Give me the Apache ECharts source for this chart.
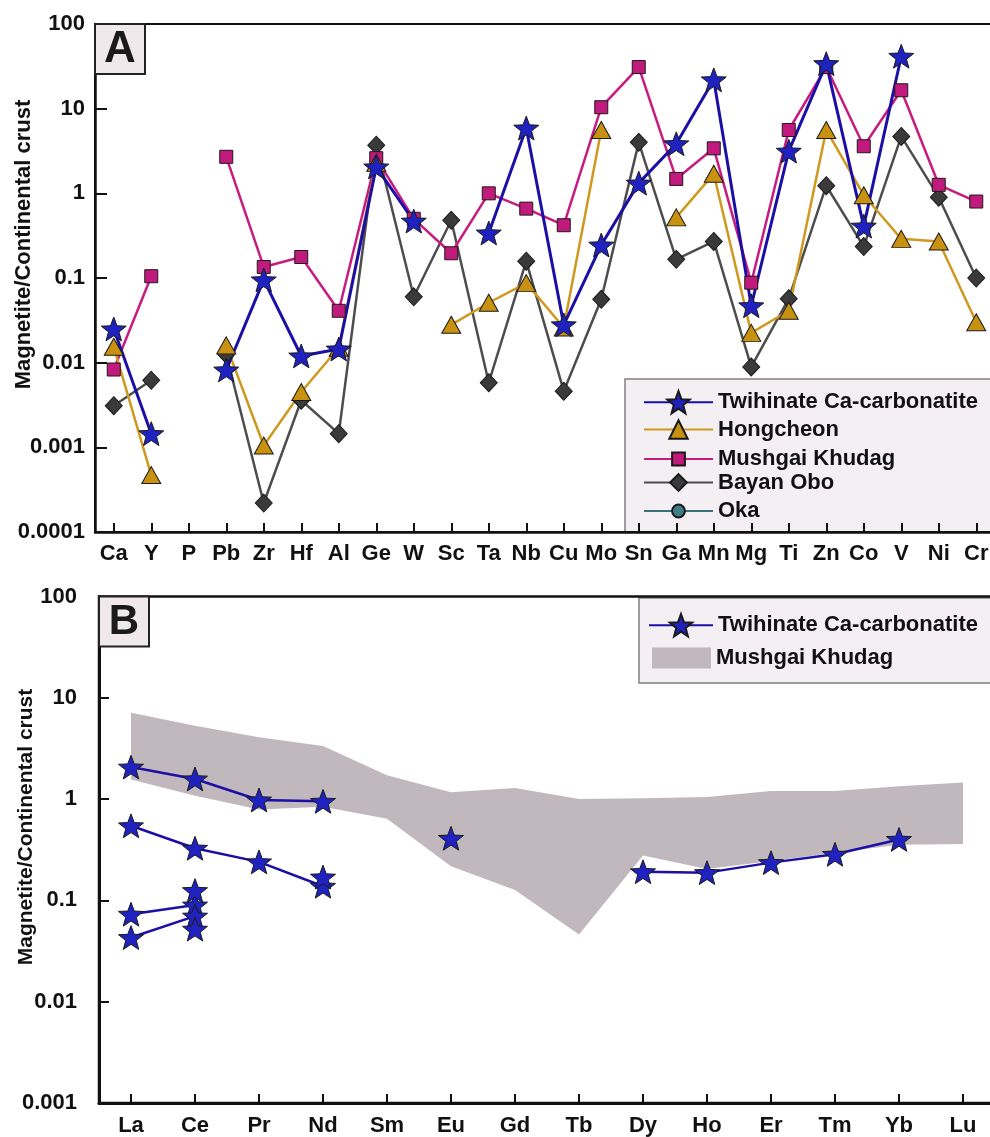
<!DOCTYPE html>
<html>
<head>
<meta charset="utf-8">
<script src="https://cdn.jsdelivr.net/npm/echarts@6/dist/echarts.min.js"></script>
<style>
html,body{margin:0;padding:0;background:#ffffff;}
#chart{width:990px;height:1137px;}
</style>
</head>
<body>
<div id="chart"></div>
<script>
// ---------- Panel A data ----------
const elementsA = ['Ca','Y','P','Pb','Zr','Hf','Al','Ge','W','Sc','Ta','Nb','Cu','Mo','Sn','Ga','Mn','Mg','Ti','Zn','Co','V','Ni','Cr'];
const tickLabelsA = ['0.0001','0.001','0.01','0.1','1','10','100'];
const twihinateA = [0.025,0.00145,null,0.0082,0.095,0.012,0.0145,2.05,0.47,null,0.34,5.9,0.028,0.245,1.32,3.85,21.9,0.047,3.15,34,0.41,41.6,null,null];
const hongcheonA = [0.0154,0.00047,null,0.016,0.00105,0.0045,0.015,2.3,null,0.028,0.051,0.087,0.026,5.6,null,0.52,1.7,0.0225,0.041,5.6,0.95,0.29,0.27,0.03];
const mushgaiA   = [0.0083,0.105,null,2.7,0.135,0.177,0.041,2.6,0.5,0.196,1.0,0.66,0.42,10.4,31,1.48,3.4,0.088,5.6,31,3.6,16.5,1.26,0.8];
const bayanOboA  = [0.0031,0.0062,null,0.0125,0.00022,0.0036,0.00145,3.7,0.06,0.48,0.0058,0.158,0.0046,0.056,4.0,0.166,0.27,0.0089,0.057,1.23,0.235,4.7,0.9,0.1];
const okaA       = [];

// ---------- Panel B data ----------
const ree = ['La','Ce','Pr','Nd','Sm','Eu','Gd','Tb','Dy','Ho','Er','Tm','Yb','Lu'];
const tickLabelsB = ['0.001','0.01','0.1','1','10','100'];
const twB1 = [2.07,1.58,0.98,0.95,null,null,null,null,null,null,null,null,null,null];
const twB2 = [0.545,0.327,0.24,0.138,null,null,null,null,null,null,null,null,null,null];
const twB3 = [0.073,0.09,null,null,null,null,null,null,null,null,null,null,null,null];
const twB4 = [0.043,0.07,null,null,null,null,null,null,null,null,null,null,null,null];
const twB5 = [null,0.125,null,0.17,null,0.41,null,null,null,null,null,null,null,null];
const twB6 = [null,0.052,null,null,null,null,null,null,null,null,null,null,null,null];
const twB7 = [null,null,null,null,null,null,null,null,0.192,0.188,0.236,0.285,0.40,null];
const bandUpper = [7.1,5.3,4.07,3.34,1.72,1.17,1.29,1.0,1.02,1.05,1.2,1.2,1.34,1.46];
const bandLower = [1.56,1.08,0.79,0.84,0.64,0.217,0.127,0.046,0.278,0.204,0.245,0.296,0.355,0.36];

// ---------- styles ----------
const FONT = "'Liberation Sans', Arial, Helvetica, sans-serif";
const STAR = 'path://M50 0 L62.34 33.01 L97.55 34.55 L69.97 56.49 L79.39 90.45 L50 71 L20.61 90.45 L30.03 56.49 L2.45 34.55 L37.66 33.01 Z';
const TXT = '#111111';

function lineSer(name, data, xi, yi, lineColor, fillColor, symbol, size, lw) {
  return {
    name: name, type: 'line', xAxisIndex: xi, yAxisIndex: yi, data: data,
    connectNulls: false, showAllSymbol: true, symbol: symbol, symbolSize: size,
    symbolKeepAspect: true, animation: false,
    lineStyle: { color: lineColor, width: lw },
    itemStyle: { color: fillColor, borderColor: '#1a1a1a', borderWidth: 1 },
    emphasis: { disabled: true }
  };
}

const series = [
  lineSer('Oka', okaA, 0, 0, '#3b6f7c', '#3f7d88', 'circle', 14, 2.5),
  lineSer('Bayan Obo', bayanOboA, 0, 0, '#4d4d4d', '#3a3a3a', 'diamond', [17,18], 2.5),
  lineSer('Mushgai Khudag', mushgaiA, 0, 0, '#c81b80', '#c2197d', 'rect', 13, 2.5),
  lineSer('Hongcheon', hongcheonA, 0, 0, '#cf981f', '#c99110', 'triangle', [19,17], 2.5),
  lineSer('Twihinate Ca-carbonatite', twihinateA, 0, 0, '#1b0fa6', '#1f22bf', STAR, 25, 3),
  {
    name: 'Mushgai Khudag', type: 'custom', xAxisIndex: 1, yAxisIndex: 1,
    data: bandUpper.map(function (u, i) { return [i, u, bandLower[i]]; }),
    encode: { x: 0, y: [1, 2] },
    itemStyle: { color: '#c0b8bc' },
    animation: false, silent: true, z: 1,
    renderItem: function (params, api) {
      if (params.dataIndex !== 0) return null;
      const pts = [];
      for (let i = 0; i < bandUpper.length; i++) pts.push(api.coord([i, bandUpper[i]]));
      for (let i = bandLower.length - 1; i >= 0; i--) pts.push(api.coord([i, bandLower[i]]));
      return { type: 'polygon', shape: { points: pts }, style: { fill: '#c0b8bc', stroke: null } };
    }
  }
];
[twB1, twB2, twB3, twB4, twB5, twB6, twB7].forEach(function (d) {
  series.push(lineSer('Twihinate Ca-carbonatite', d, 1, 1, '#1b0fa6', '#1f22bf', STAR, 25, 2.5));
});

function xAx(gi, cats, lw, margin) {
  return {
    gridIndex: gi, type: 'category', data: cats, boundaryGap: true,
    axisLine: { show: true, onZero: false, lineStyle: { color: TXT, width: lw } },
    axisTick: { show: true, inside: true, alignWithLabel: true, length: 9, lineStyle: { color: TXT, width: 2 } },
    axisLabel: { interval: 0, margin: margin, fontSize: 22, fontWeight: 'bold', color: TXT, fontFamily: FONT },
    splitLine: { show: false }
  };
}
function yAx(gi, mn, mx, labels, lowExp, margin, tickLen, lw) {
  return {
    gridIndex: gi, type: 'log', logBase: 10, min: mn, max: mx, interval: 1,
    axisLine: { show: true, lineStyle: { color: TXT, width: lw } },
    axisTick: { show: true, inside: true, length: tickLen, lineStyle: { color: TXT, width: 2 } },
    axisLabel: {
      margin: margin, fontSize: 22, fontWeight: 'bold', color: TXT, fontFamily: FONT,
      formatter: function (v) { return labels[Math.round(Math.log10(v)) - lowExp]; }
    },
    splitLine: { show: false }, minorTick: { show: false }
  };
}

const legTxt = { fontSize: 22, fontWeight: 'bold', color: TXT, fontFamily: FONT };
function leg(name, left, centerY, w, h, extra) {
  const item = Object.assign({ name: name }, extra || {});
  return {
    data: [item], left: left, top: centerY - h / 2, padding: 0, orient: 'vertical',
    itemWidth: w, itemHeight: h, itemGap: 0, selectedMode: false,
    textStyle: legTxt
  };
}

const option = {
  backgroundColor: '#ffffff',
  animation: false,
  grid: [
    { left: 95, top: 24, width: 900, height: 508, outerBoundsMode: 'none', containLabel: false, show: true, borderColor: TXT, borderWidth: 2, backgroundColor: 'transparent', z: 0 },
    { left: 99, top: 596.5, width: 896, height: 506.5, outerBoundsMode: 'none', containLabel: false, show: true, borderColor: TXT, borderWidth: 2.5, backgroundColor: 'transparent', z: 0 }
  ],
  xAxis: [ xAx(0, elementsA, 2.5, 11), xAx(1, ree, 3, 12) ],
  yAxis: [ yAx(0, 0.0001, 100, tickLabelsA, -4, 10, 12, 2.5), yAx(1, 0.001, 100, tickLabelsB, -3, 22, 10, 3) ],
  legend: [
    leg('Twihinate Ca-carbonatite', 643, 404, 69, 28),
    leg('Hongcheon', 643, 430, 69, 23),
    leg('Mushgai Khudag', 643, 456, 69, 16),
    leg('Bayan Obo', 643, 482, 69, 21),
    leg('Oka', 643, 508, 69, 16),
    leg('Twihinate Ca-carbonatite', 648, 627, 64, 28),
    leg('Mushgai Khudag', 652, 657.5, 59, 21, { icon: 'rect', itemStyle: { color: '#c0b8bc', borderWidth: 0 } })
  ],
  graphic: [
    { type: 'rect', z: -10, shape: { x: 625, y: 379, width: 400, height: 153 }, style: { fill: '#f3eff3', stroke: '#808080', lineWidth: 1.5 } },
    { type: 'rect', z: -10, shape: { x: 639, y: 598, width: 400, height: 85 }, style: { fill: '#f3eff3', stroke: '#808080', lineWidth: 1.5 } },
    { type: 'rect', z: 10, shape: { x: 95, y: 24, width: 50, height: 50 }, style: { fill: '#efe9ec', stroke: '#222', lineWidth: 2 } },
    { type: 'text', z: 11, x: 120, y: 50, style: { text: 'A', font: "bold 44px 'Liberation Sans', Arial, sans-serif", fill: '#1a1a1a', textAlign: 'center', textVerticalAlign: 'middle' } },
    { type: 'rect', z: 10, shape: { x: 99, y: 596.5, width: 50, height: 50 }, style: { fill: '#efe9ec', stroke: '#222', lineWidth: 2 } },
    { type: 'text', z: 11, x: 124, y: 622, style: { text: 'B', font: "bold 42px 'Liberation Sans', Arial, sans-serif", fill: '#1a1a1a', textAlign: 'center', textVerticalAlign: 'middle' } },
    { type: 'text', z: 11, x: 23.5, y: 244.5, rotation: Math.PI / 2, style: { text: 'Magnetite/Continental crust', font: "bold 22px 'Liberation Sans', Arial, sans-serif", fill: TXT, textAlign: 'center', textVerticalAlign: 'middle' } },
    { type: 'text', z: 11, x: 26, y: 827, rotation: Math.PI / 2, style: { text: 'Magnetite/Continental crust', font: "bold 21px 'Liberation Sans', Arial, sans-serif", fill: TXT, textAlign: 'center', textVerticalAlign: 'middle' } }
  ],
  series: series
};

const chart = echarts.init(document.getElementById('chart'), null, { renderer: 'canvas' });
chart.setOption(option);
</script>
</body>
</html>
